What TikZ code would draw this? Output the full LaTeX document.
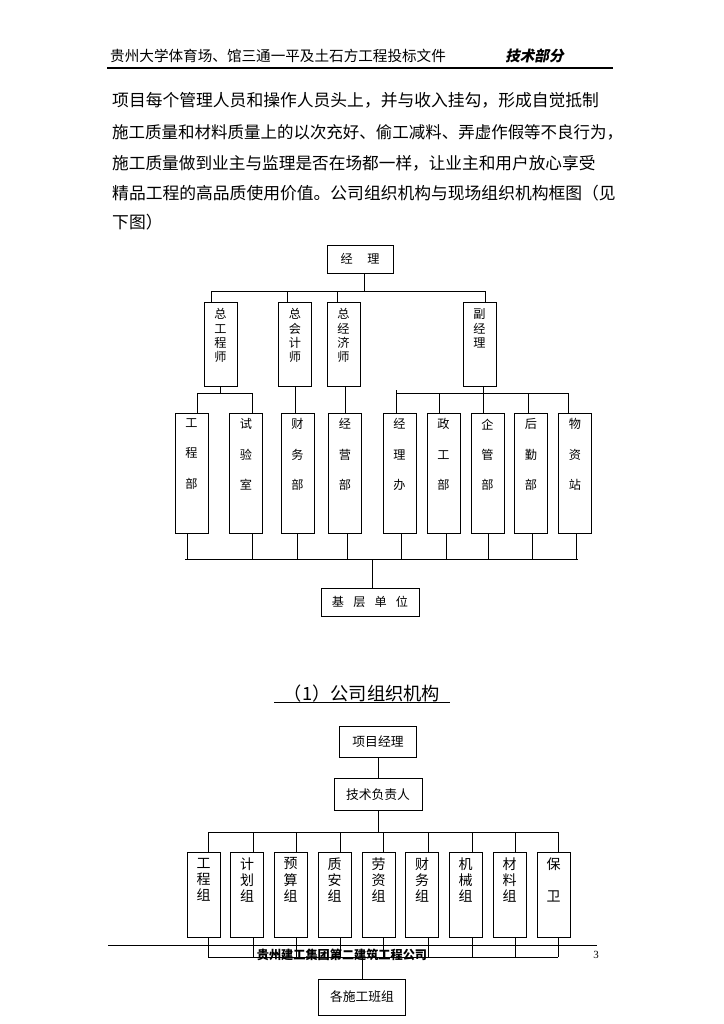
\documentclass[tikz,border=0pt]{standalone}
\usepackage{fontspec}
\setmainfont{Noto Sans CJK SC}
\newfontfamily\slantcjk{Noto Sans CJK SC}[FakeSlant=0.2]
\newfontfamily\numfont{Liberation Serif}
\usetikzlibrary{positioning}
\newdimen\pxu \pxu=0.8222pt
\tikzset{
  box/.style={draw, line width=0.8pt, inner sep=0pt, minimum width=33\pxu},
  vlab/.style={inner sep=0pt, align=center},
  wire/.style={line width=0.8pt},
  body/.style={anchor=west, inner sep=0pt},
}
\begin{document}
\begin{tikzpicture}[x=0.8222pt, y=-0.8222pt]
\fill[white] (0,0) rectangle (724,1024);
\useasboundingbox (0,0) rectangle (724,1024);

% page header
\node[body, font=\fontsize{12}{14}\selectfont] (hdtitle) at (110,56) {贵州大学体育场、馆三通一平及土石方工程投标文件};
\node[body, font=\fontsize{12}{14}\selectfont\slantcjk\bfseries] (hdpart) at (505,56) {技术部分};
\draw[line width=1.2pt] (107,68) -- (613,68);

% text
\foreach \yy/\sz/\txt [count=\i] in {
  100/13.8/项目每个管理人员和操作人员头上，并与收入挂勾，形成自觉抵制,
  132/13.55/施工质量和材料质量上的以次充好、偷工减料、弄虚作假等不良行为，,
  163/13.7/施工质量做到业主与监理是否在场都一样，让业主和用户放心享受,
  193/13.8/精品工程的高品质使用价值。公司组织机构与现场组织机构框图（见,
  222/13.8/下图）}
  \node[body, font=\fontsize{\sz}{16}\selectfont] (para\i) at (112,\yy) {\txt};

% company chart
\node[box, minimum width=66\pxu, minimum height=28\pxu, font=\fontsize{10}{12}\selectfont] (jl) at (360,259) {经\hspace{12pt}理};
\foreach \n/\x/\t in {zgcs/220.5/{总\\工\\程\\师}, zkjs/295/{总\\会\\计\\师}, zjjs/343.5/{总\\经\\济\\师}, fjl/479.5/{副\\经\\理}} {
  \node[box, minimum height=84\pxu] (\n) at (\x,344) {};
  \node[vlab, font=\fontsize{10}{11.8}\selectfont, below=5.7pt of \n.north] (\n-t) {\t};
}
\foreach \n/\x/\t in {gcb/191.5/{工\\程\\部}, syb/246/{试\\验\\室}, cwb/297.5/{财\\务\\部}, jyb/345/{经\\营\\部}, jlb/399.5/{经\\理\\办}, zgb/443.5/{政\\工\\部}, qgb/487.5/{企\\管\\部}, hqb/531/{后\\勤\\部}, wzz/575/{物\\资\\站}} {
  \node[box, minimum height=120\pxu] (\n) at (\x,473) {};
  \node[vlab, font=\fontsize{10}{25}\selectfont, below=4.9pt of \n.north] (\n-t) {\t};
}
\node[box, minimum width=98\pxu, minimum height=28\pxu, font=\fontsize{10}{12}\selectfont] (jcdw) at (370,602) {基\hspace{7.5pt}层\hspace{7.5pt}单\hspace{7.5pt}位};

\coordinate (jlc) at (364,291);
\draw[wire] (jl.south -| jlc) -- (jlc);
\draw[wire] (211,291) -- (485,291);
\foreach \n/\x in {zgcs/211, zkjs/287, zjjs/337, fjl/485}
  \draw[wire] (\x,291) -- (\x,291 |- \n.north);
\coordinate (gcl) at (197,393);
\coordinate (gcr) at (252,393);
\draw[wire] (zgcs.south) -- (zgcs.south |- gcl);
\draw[wire] (gcl) -- (gcr);
\draw[wire] (gcl) -- (gcl |- gcb.north);
\draw[wire] (gcr) -- (gcr |- syb.north);
\draw[wire] (zkjs.south) -- (zkjs.south |- cwb.north);
\draw[wire] (jyb.north) -- (jyb.north |- zjjs.south);
\coordinate (fjc) at (483,393);
\draw[wire] (fjl.south -| fjc) -- (fjc);
\draw[wire] (396,393) -- (568,393);
\draw[wire] (396,390) -- (396,390 |- jlb.north);
\foreach \n/\x in {zgb/439, qgb/483, hqb/528, wzz/568}
  \draw[wire] (\x,393) -- (\x,393 |- \n.north);
\foreach \n/\x in {gcb/187, syb/252, cwb/297, jyb/347, jlb/401, zgb/446, qgb/488, hqb/532, wzz/576}
  \draw[wire] (\x,559 |- \n.south) -- (\x,559);
\draw[wire] (185,559) -- (578,559);
\draw[wire] (372,559) -- (372,559 |- jcdw.north);

% caption
\node[inner sep=0pt, font=\fontsize{15}{18}\selectfont] (cap) at (362,694) {（1）公司组织机构};
\draw[line width=0.7pt] (274,702) -- (450,702);

% site chart
\node[box, minimum width=77\pxu, minimum height=31\pxu, font=\fontsize{10.5}{12}\selectfont] (xmjl) at (378,741.5) {项目经理};
\node[box, minimum width=88\pxu, minimum height=32\pxu, font=\fontsize{10.5}{12}\selectfont] (jsfzr) at (378,794.5) {技术负责人};
\draw[wire] (xmjl.south) -- (jsfzr.north);
\draw[wire] (jsfzr.south) -- (jsfzr.south |- 0,832);
\draw[wire] (208,832) -- (558,832);
\foreach \n/\x/\t in {gcz/203.5/{工\\程\\组}, jhz/247/{计\\划\\组}, ysz/290.5/{预\\算\\组}, zaz/334.5/{质\\安\\组}, lzz/378.5/{劳\\资\\组}, cwz/422/{财\\务\\组}, jxz/465.5/{机\\械\\组}, clz/509.5/{材\\料\\组}, bw/553.5/{保\\[13.2pt]卫}} {
  \node[box, minimum height=85\pxu] (\n) at (\x,894.5) {};
  \node[vlab, font=\fontsize{11.5}{13.2}\selectfont, below=5pt of \n.north] (\n-t) {\t};
}
\node[box, minimum width=87\pxu, minimum height=36\pxu, font=\fontsize{10.5}{12}\selectfont] (gsgbz) at (362,997) {各施工班组};
\foreach \n/\x in {gcz/208, jhz/253, ysz/296, zaz/340, lzz/383, cwz/428, jxz/472, clz/515, bw/558} {
  \draw[wire] (\x,832) -- (\x,832 |- \n.north);
  \draw[wire] (\x,957 |- \n.south) -- (\x,957);
}
\draw[wire] (208,957) -- (558,957);
\draw[wire] (362,957) -- (gsgbz.north);

% page footer
\draw[line width=0.6pt] (108,945) -- (597,945);
\node[inner sep=0pt, font=\fontsize{10}{12}\selectfont\bfseries] (ftco) at (342,955) {贵州建工集团第二建筑工程公司};
\node[inner sep=0pt, font=\numfont\fontsize{9}{11}\selectfont] (pgno) at (596,955) {3};
\end{tikzpicture}
\end{document}
